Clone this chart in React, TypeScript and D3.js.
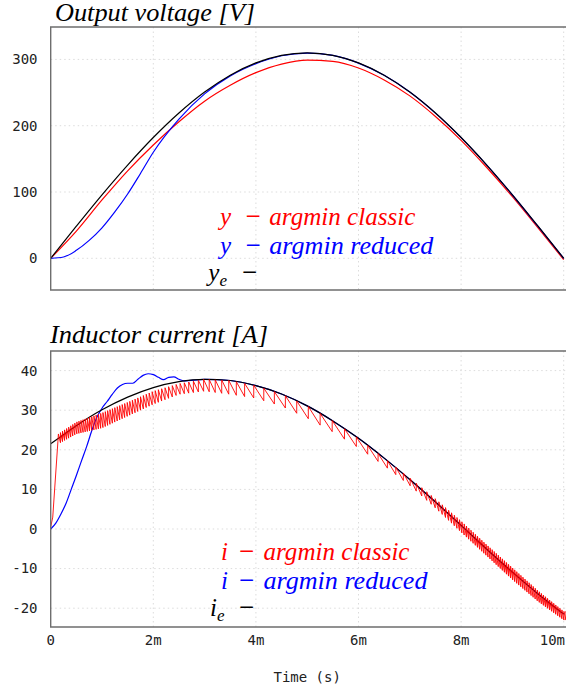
import React from "react";
import * as d3 from "d3";

// ---------- data (time in ms) ----------
const tRef = [0, 0.5, 1, 1.5, 2, 2.5, 3, 3.5, 4, 4.5, 5, 5.5, 6, 6.5, 7, 7.5, 8, 8.5, 9, 9.5, 10];
const vRefVals = [0, 48.5, 95.8, 140.7, 182.2, 219.2, 250.8, 276.2, 294.8, 306.2, 310, 306.2, 294.8, 276.2, 250.8, 219.2, 182.2, 140.7, 95.8, 48.5, 0];
const vClassicVals = [0, 41, 88, 132, 171, 206, 237, 261, 280, 293, 299, 297, 287, 269, 245, 214, 178, 137, 93, 46, -2];
const tReducedV = [0, 0.25, 0.5, 0.75, 1, 1.25, 1.5, 1.75, 2, 2.5, 3, 3.5, 4, 4.5, 5, 5.5, 6, 6.5, 7, 7.5, 8, 8.5, 9, 9.5, 10];
const vReducedVals = [0, 2, 12, 27, 46, 70, 97, 128, 160, 210, 248, 275, 293.5, 305.5, 309.5, 306, 294.5, 276, 250.8, 219, 182, 140.5, 95.5, 48, 0];

const iRefVals = [21.5, 26.1, 30.1, 33.3, 35.7, 37.2, 37.8, 37.5, 36.2, 34.1, 31.1, 27.3, 22.9, 17.9, 12.5, 6.8, 0.9, -5.1, -10.9, -16.4, -21.5];
const tReducedI = [0, 0.1, 0.2, 0.3, 0.4, 0.5, 0.6, 0.7, 0.8, 0.9, 1.0, 1.1, 1.2, 1.3, 1.4, 1.5, 1.6, 1.7, 1.8, 1.9, 2.0, 2.1, 2.2, 2.3, 2.4, 2.5, 2.6, 3, 3.5, 4, 4.5, 5, 5.5, 6, 6.5, 7, 7.5, 8, 8.5, 9, 9.5, 10];
const iReducedVals = [0, 1.5, 3.8, 6.5, 10, 13.5, 17.2, 20.8, 24.8, 28.2, 30.5, 32.2, 34, 35.6, 36.5, 36.8, 36.8, 37.8, 38.8, 39.2, 39.0, 38.3, 37.7, 38.3, 38.4, 37.8, 37.4, 37.8, 37.5, 36.2, 34.1, 31.1, 27.3, 22.9, 17.9, 12.5, 6.8, 0.9, -5.1, -10.9, -16.4, -21.5];

// classic current: start-up transient, then ripple envelopes and switching period
const tClassicStart = [0, 0.04, 0.14];
const iClassicStart = [0.5, 3, 22];
const tClassicEnv = [0.15, 0.5, 1, 1.5, 2, 2.5, 3, 3.5, 4, 4.5, 5, 5.5, 6, 6.5, 7, 7.5, 8, 8.5, 9, 9.5, 10];
const iClassicTop = [24, 27, 29.3, 32, 34.8, 36.7, 37.8, 37.5, 36.2, 34.1, 31.1, 27.3, 22.9, 17.9, 12.9, 7.6, 2, -4, -9.8, -15.6, -20.8];
const iClassicBottom = [21.5, 24, 25.5, 28.5, 31.5, 34, 34.8, 34, 33, 31, 28, 24.5, 20.5, 16, 11, 5.3, -0.8, -6.8, -12.8, -18.3, -23];
const classicPeriod = [0.04, 0.04, 0.045, 0.05, 0.06, 0.08, 0.11, 0.15, 0.2, 0.22, 0.23, 0.24, 0.22, 0.17, 0.12, 0.07, 0.045, 0.04, 0.04, 0.04, 0.04];

const vTicks = [0, 100, 200, 300];
const iTicks = [-20, -10, 0, 10, 20, 30, 40];
const xTicks = [0, 2, 4, 6, 8, 10];
const xTickLabels = ["0", "2m", "4m", "6m", "8m", "10m"];

// ---------- layout ----------
const W = 566, H = 692;
const X0 = 50.7, X1 = 563.7;
const P1 = { top: 27, bottom: 290 };
const P2 = { top: 351, bottom: 627 };

const x = d3.scaleLinear().domain([0, 10]).range([X0, X1]);
const yV = d3.scaleLinear().domain([-47.8, 348.9]).range([P1.bottom, P1.top]);
const yI = d3.scaleLinear().domain([-24.75, 44.95]).range([P2.bottom, P2.top]);

const mono = "'DejaVu Sans Mono', monospace";
const serif = "'Liberation Serif', 'Times New Roman', serif";

function mk(ts: number[], vs: number[]): [number, number][] {
  return ts.map((t, i) => [t, vs[i]]);
}

function classicCurrent(): [number, number][] {
  const top = d3.scaleLinear().domain(tClassicEnv).range(iClassicTop).clamp(true);
  const bot = d3.scaleLinear().domain(tClassicEnv).range(iClassicBottom).clamp(true);
  const per = d3.scaleLinear().domain(tClassicEnv).range(classicPeriod).clamp(true);
  const pts = mk(tClassicStart, iClassicStart);
  let t = tClassicEnv[0];
  while (t < 10.1) {
    const p = per(t);
    pts.push([t, top(t)]);
    pts.push([t + p, bot(t + p)]);
    t += p;
  }
  return pts;
}

function Panel({ y, box, ticks, children }: any) {
  return (
    <g>
      {ticks.map((v: number) => (
        <line key={"h" + v} x1={X0} x2={W} y1={y(v)} y2={y(v)} stroke="#dcdcdc" strokeWidth={1} strokeDasharray="1.5,3" />
      ))}
      {xTicks.slice(1).map((t) => (
        <line key={"v" + t} x1={x(t)} x2={x(t)} y1={box.top} y2={box.bottom} stroke="#dcdcdc" strokeWidth={1} strokeDasharray="1.5,3" />
      ))}
      {ticks.map((v: number) => (
        <text key={"t" + v} x={37.5} y={y(v)} dy="0.35em" textAnchor="end" fontFamily={mono} fontSize={14} fill="#222">
          {v}
        </text>
      ))}
      {children}
      <path d={`M${W + 5},${box.top}H${X0}V${box.bottom}H${W + 5}`} fill="none" stroke="#6e6e6e" strokeWidth={1.4} />
    </g>
  );
}

function Legend({ sym, color, label, x0, baseline, minusX, textX, sub, len }: any) {
  return (
    <text fontFamily={serif} fontStyle="italic" fontSize={25} fill={color}>
      <tspan x={x0} y={baseline}>{sym}</tspan>
      {sub ? <tspan fontSize={17} dy={5}>{sub}</tspan> : null}
      <tspan x={minusX} y={baseline} fontStyle="normal" fontSize={27}>−</tspan>
      {label ? <tspan x={textX} y={baseline} textLength={len} lengthAdjust="spacingAndGlyphs">{label}</tspan> : null}
    </text>
  );
}

export default function App() {
  const lineV = d3.line<[number, number]>().x((d) => x(d[0])).y((d) => yV(d[1])).curve(d3.curveMonotoneX);
  const lineI = d3.line<[number, number]>().x((d) => x(d[0])).y((d) => yI(d[1])).curve(d3.curveMonotoneX);
  const lineILin = d3.line<[number, number]>().x((d) => x(d[0])).y((d) => yI(d[1]));

  return (
    <svg width={W} height={H} style={{ position: "absolute", left: 0, top: 0, display: "block", background: "#fff" }}>
      <rect x={0} y={0} width={W} height={H} fill="#fff" />
      {/* top panel */}
      <text x={55} y={20.7} fontFamily={serif} fontStyle="italic" fontSize={25} fill="#000" textLength={200} lengthAdjust="spacingAndGlyphs">
        Output voltage [V]
      </text>
      <Panel y={yV} box={P1} ticks={vTicks}>
        <path d={lineV(mk(tRef, vClassicVals)) || ""} fill="none" stroke="#ff0000" strokeWidth={1.2} />
        <path d={lineV(mk(tReducedV, vReducedVals)) || ""} fill="none" stroke="#0000ff" strokeWidth={1.2} />
        <path d={lineV(mk(tRef, vRefVals)) || ""} fill="none" stroke="#000" strokeWidth={1.2} />
      </Panel>
      <Legend sym="y" color="#ff0000" label="argmin classic" len={146} x0={220} baseline={225} minusX={245.5} textX={269.3} />
      <Legend sym="y" color="#0000ff" label="argmin reduced" len={164} x0={220} baseline={253.5} minusX={245.5} textX={269.3} />
      <Legend sym="y" sub="e" color="#000" x0={208.3} baseline={281} minusX={242} />

      {/* bottom panel */}
      <text x={50} y={342.7} fontFamily={serif} fontStyle="italic" fontSize={25} fill="#000" textLength={218} lengthAdjust="spacingAndGlyphs">
        Inductor current [A]
      </text>
      <Panel y={yI} box={P2} ticks={iTicks}>
        <path d={lineI(mk(tReducedI, iReducedVals)) || ""} fill="none" stroke="#0000ff" strokeWidth={1.2} />
        <path d={lineI(mk(tRef, iRefVals)) || ""} fill="none" stroke="#000" strokeWidth={1.2} />
        <path d={lineILin(classicCurrent()) || ""} fill="none" stroke="#ff0000" strokeWidth={0.9} />
      </Panel>
      <Legend sym="i" color="#ff0000" label="argmin classic" len={146} x0={221} baseline={560} minusX={239} textX={263.5} />
      <Legend sym="i" color="#0000ff" label="argmin reduced" len={164} x0={221} baseline={588.5} minusX={239} textX={263.5} />
      <Legend sym="i" sub="e" color="#000" x0={210} baseline={616} minusX={239} />

      {/* x axis */}
      {xTicks.map((t, i) => (
        <text key={t} x={i === xTicks.length - 1 ? W - 1 : x(t)} y={645} textAnchor={i === xTicks.length - 1 ? "end" : "middle"} fontFamily={mono} fontSize={14} fill="#222">
          {xTickLabels[i]}
        </text>
      ))}
      <text x={(X0 + X1) / 2} y={681.5} textAnchor="middle" fontFamily={mono} fontSize={14} fill="#222">
        Time (s)
      </text>
    </svg>
  );
}
